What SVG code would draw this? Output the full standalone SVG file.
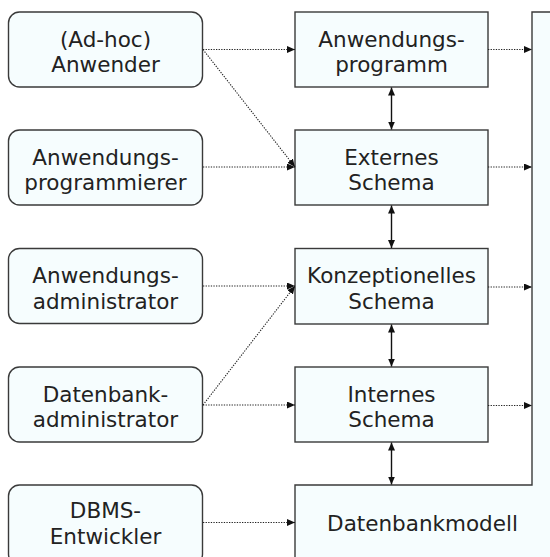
<svg xmlns="http://www.w3.org/2000/svg" width="550" height="557" viewBox="0 0 550 557">
<defs>
<style>
.box{fill:#f6fdfe;stroke:#3a3a3a;stroke-width:1.4}
.t{font-family:"DejaVu Sans",sans-serif;font-size:21.5px;fill:#222;text-anchor:middle}
.dot{fill:none;stroke:#222;stroke-width:1.1;stroke-dasharray:1.3 1.3}
.sol{fill:none;stroke:#111;stroke-width:1.4}
</style>
<marker id="ah" markerUnits="userSpaceOnUse" markerWidth="10" markerHeight="8" refX="8" refY="3.5" orient="auto-start-reverse">
<path d="M0,0 L8,3.5 L0,7 Z" fill="#111"/>
</marker>
</defs>
<rect width="550" height="557" fill="#fff"/>
<g id="datenbankmodell">
<path class="box" d="M532,12 H560 V570 H295 V485 H532 Z"/>
<text class="t" x="422.5" y="530.5">Datenbankmodell</text>
</g>
<g id="adhoc">
<rect class="box" x="8.5" y="12" width="194" height="75" rx="11"/>
<text class="t" x="105.5" y="46.5">(Ad-hoc)</text>
<text class="t" x="105.5" y="72.2">Anwender</text>
</g>
<g id="anwprog">
<rect class="box" x="8.5" y="130" width="194" height="75" rx="11"/>
<text class="t" x="105.5" y="164.5">Anwendungs-</text>
<text class="t" x="105.5" y="190.2">programmierer</text>
</g>
<g id="anwadmin">
<rect class="box" x="8.5" y="248.5" width="194" height="75" rx="11"/>
<text class="t" x="105.5" y="283">Anwendungs-</text>
<text class="t" x="105.5" y="308.7">administrator</text>
</g>
<g id="dbadmin">
<rect class="box" x="8.5" y="367" width="194" height="75" rx="11"/>
<text class="t" x="105.5" y="401.5">Datenbank-</text>
<text class="t" x="105.5" y="427.2">administrator</text>
</g>
<g id="dbmsentw">
<rect class="box" x="8.5" y="485" width="194" height="80" rx="11"/>
<text class="t" x="105.5" y="518">DBMS-</text>
<text class="t" x="105.5" y="543.7">Entwickler</text>
</g>
<g id="anwendungsprogramm">
<rect class="box" x="295" y="12" width="193" height="75"/>
<text class="t" x="391.5" y="46.5">Anwendungs-</text>
<text class="t" x="391.5" y="72.2">programm</text>
</g>
<g id="externes">
<rect class="box" x="295" y="130" width="193" height="75"/>
<text class="t" x="391.5" y="164.5">Externes</text>
<text class="t" x="391.5" y="190.2">Schema</text>
</g>
<g id="konzeptionelles">
<rect class="box" x="295" y="248.5" width="193" height="75.5"/>
<text class="t" x="391.5" y="283">Konzeptionelles</text>
<text class="t" x="391.5" y="308.7">Schema</text>
</g>
<g id="internes">
<rect class="box" x="295" y="367" width="193" height="75"/>
<text class="t" x="391.5" y="401.5">Internes</text>
<text class="t" x="391.5" y="427.2">Schema</text>
</g>
<g id="connectors">
<line class="dot" x1="203" y1="49.5" x2="295" y2="49.5" marker-end="url(#ah)"/>
<line class="dot" x1="203" y1="49.5" x2="295" y2="167" marker-end="url(#ah)"/>
<line class="dot" x1="203" y1="167" x2="295" y2="167" marker-end="url(#ah)"/>
<line class="dot" x1="203" y1="286" x2="295" y2="286" marker-end="url(#ah)"/>
<line class="dot" x1="203" y1="405" x2="295" y2="286" marker-end="url(#ah)"/>
<line class="dot" x1="203" y1="405" x2="295" y2="405" marker-end="url(#ah)"/>
<line class="dot" x1="203" y1="522.5" x2="295" y2="522.5" marker-end="url(#ah)"/>
<line class="dot" x1="488" y1="49.5" x2="532" y2="49.5" marker-end="url(#ah)"/>
<line class="dot" x1="488" y1="167" x2="532" y2="167" marker-end="url(#ah)"/>
<line class="dot" x1="488" y1="287" x2="532" y2="287" marker-end="url(#ah)"/>
<line class="dot" x1="488" y1="405.5" x2="532" y2="405.5" marker-end="url(#ah)"/>
<line class="sol" x1="391.5" y1="87.5" x2="391.5" y2="129.5" marker-start="url(#ah)" marker-end="url(#ah)"/>
<line class="sol" x1="391.5" y1="205.5" x2="391.5" y2="248" marker-start="url(#ah)" marker-end="url(#ah)"/>
<line class="sol" x1="391.5" y1="324.5" x2="391.5" y2="366.5" marker-start="url(#ah)" marker-end="url(#ah)"/>
<line class="sol" x1="391.5" y1="442.5" x2="391.5" y2="484.5" marker-start="url(#ah)" marker-end="url(#ah)"/>
</g>
</svg>
